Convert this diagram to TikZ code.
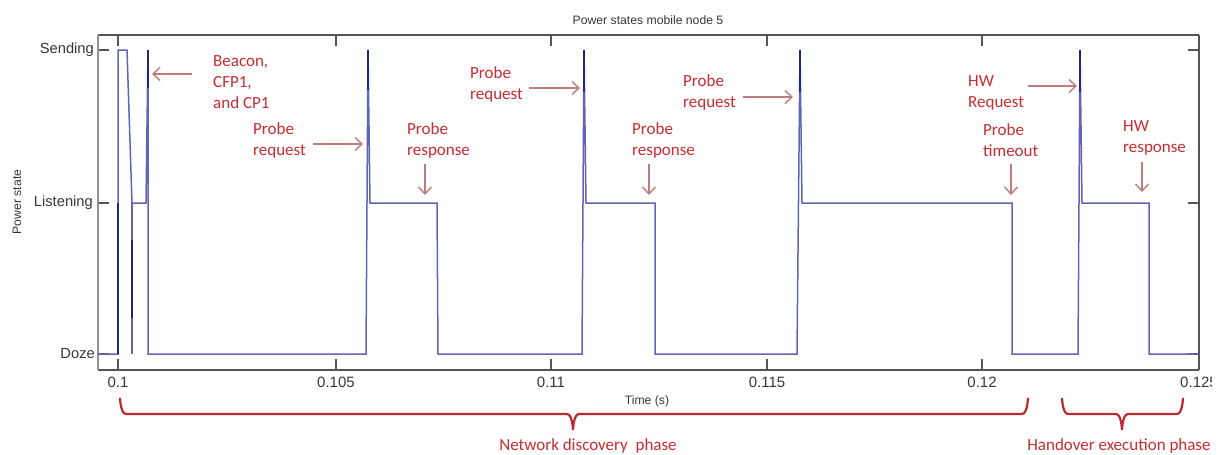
\documentclass[tikz,border=0pt]{standalone}
\usepackage{fontspec}
\setmainfont{Carlito}
\newfontfamily\axfont{Liberation Sans}
\usetikzlibrary{arrows.meta}
\definecolor{trace}{RGB}{100,100,182}
\definecolor{tracedark}{RGB}{35,35,140}
\definecolor{annot}{RGB}{200,45,50}
\definecolor{annarrow}{RGB}{190,125,125}
\definecolor{bracecol}{RGB}{185,45,50}
\definecolor{axdark}{RGB}{85,85,85}
\definecolor{axlight}{RGB}{145,145,145}
\definecolor{axtext}{RGB}{55,55,55}
\begin{document}
\begin{tikzpicture}[x=1pt,y=-1pt,
  annotext/.style={text=annot, font=\fontsize{17}{21}\selectfont, align=left, anchor=west, inner sep=0pt},
  annoarrow/.style={draw=annarrow, line width=1.4pt, -{Straight Barb[length=7pt,width=13pt]}},
  ticklbl/.style={text=axtext, font=\axfont\fontsize{15}{18}\selectfont, inner sep=0pt},
  statelbl/.style={text=axtext, font=\axfont\fontsize{14.7}{18}\selectfont, inner sep=0pt, anchor=east},
  smalllbl/.style={text=axtext, font=\axfont\fontsize{12.2}{15}\selectfont, inner sep=0pt},
  tracepath/.style={draw=trace, line width=1.5pt, line join=miter},
  darkpath/.style={draw=tracedark, line width=1.5pt},
  bracepath/.style={draw=bracecol, line width=2.2pt, line cap=round},
  phaselbl/.style={text=annot, font=\fontsize{17}{21}\selectfont, inner sep=0pt},
  tickmark/.style={draw=axdark, line width=1.2pt}
]
\useasboundingbox[fill=white] (0,0) rectangle (1219,455);

% title and axis labels
\node[smalllbl] (title) at (648,20) {Power states mobile node 5};
\node[smalllbl] (xlabel) at (647,401) {Time (s)};
\node[smalllbl, rotate=90] (ylabel) at (17,202) {Power state};

% y tick labels
\node[statelbl] (ysend) at (94,50) {Sending};
\node[statelbl] (ylist) at (93,203) {Listening};
\node[statelbl] (ydoze) at (95,354) {Doze};

% x tick labels
\node[ticklbl] (x1) at (118,382) {0.1};
\node[ticklbl] (x2) at (336,382) {0.105};
\node[ticklbl] (x3) at (551,382) {0.11};
\node[ticklbl] (x4) at (767,382) {0.115};
\node[ticklbl] (x5) at (982,382) {0.12};
\begin{scope}
  \clip (1150,370) rectangle (1211,396);
  \node[ticklbl] (x6) at (1199,382) {0.125};
\end{scope}

% ticks
\foreach \xx in {118,336,551,767,982} {
  \draw[tickmark] (\xx,35) -- (\xx,46);
  \draw[tickmark] (\xx,370) -- (\xx,359);
}
\foreach \yy in {50,203,354} {
  \draw[tickmark] (98,\yy) -- (109,\yy);
  \draw[tickmark] (1199,\yy) -- (1188,\yy);
}

% axes box
\draw[draw=axdark, line width=1.4pt] (98,35) -- (1199,35);
\draw[draw=axdark, line width=1.4pt] (98,370) -- (1199,370);
\draw[draw=axlight, line width=1.2pt] (98,35) -- (98,370);
\draw[draw=axdark, line width=1.2pt] (1199,35) -- (1199,370);

% trace
\draw[tracepath] (98,354) -- (118,354) -- (118,50) -- (127,50) -- (132,203) -- (146,203) -- (148,50) -- (148,354)
  -- (366,354) -- (368,50) -- (370,203) -- (437,203) -- (438,354)
  -- (582,354) -- (584,50) -- (586,203) -- (655,203) -- (655,354)
  -- (797,354) -- (800,50) -- (802,203) -- (1012,203) -- (1012,354)
  -- (1078,354) -- (1080,50) -- (1082,203) -- (1149,203) -- (1149,354) -- (1199,354);
\draw[tracepath] (132,203) -- (132,354);
% darker overlapping segments
\draw[darkpath] (118,203) -- (118,354);
\draw[darkpath] (132,240) -- (132,318);
\draw[darkpath] (148,50) -- (148,88);
\draw[darkpath] (368,50) -- (368,90);
\draw[darkpath] (584,50) -- (584,92);
\draw[darkpath] (800,50) -- (800,92);
\draw[darkpath] (1080,50) -- (1080,92);

% annotations
\node[annotext] (beacon) at (213,82) {Beacon,\\CFP1,\\and CP1};
\node[annotext] (preq1) at (253,140.5) {Probe\\request};
\node[annotext] (presp1) at (407,140.5) {Probe\\response};
\node[annotext] (preq2) at (470,84.5) {Probe\\request};
\node[annotext] (presp2) at (632,140.5) {Probe\\response};
\node[annotext] (preq3) at (683,92.5) {Probe\\request};
\node[annotext] (hwreq) at (968,92.5) {HW\\Request};
\node[annotext] (ptime) at (983,140.5) {Probe\\timeout};
\node[annotext] (hwresp) at (1123,137.5) {HW\\response};

\coordinate (a1s) at (192,74);  \coordinate (a1e) at (152,74);
\coordinate (a2s) at (313,144); \coordinate (a2e) at (363,144);
\coordinate (a3s) at (425,164); \coordinate (a3e) at (425,195);
\coordinate (a4s) at (529,88);  \coordinate (a4e) at (580,88);
\coordinate (a5s) at (649,164); \coordinate (a5e) at (649,195);
\coordinate (a6s) at (743,97);  \coordinate (a6e) at (793,97);
\coordinate (a7s) at (1028,86); \coordinate (a7e) at (1077,86);
\coordinate (a8s) at (1011,164); \coordinate (a8e) at (1011,195);
\coordinate (a9s) at (1142,162); \coordinate (a9e) at (1142,192);
\draw[annoarrow] (a1s) -- (a1e);
\draw[annoarrow] (a2s) -- (a2e);
\draw[annoarrow] (a3s) -- (a3e);
\draw[annoarrow] (a4s) -- (a4e);
\draw[annoarrow] (a5s) -- (a5e);
\draw[annoarrow] (a6s) -- (a6e);
\draw[annoarrow] (a7s) -- (a7e);
\draw[annoarrow] (a8s) -- (a8e);
\draw[annoarrow] (a9s) -- (a9e);

% braces
\draw[bracepath] (120,399) to[out=90,in=180] (126,414) -- (567,414) to[out=0,in=-90] (573,429)
  to[out=-90,in=180] (579,414) -- (1022,414) to[out=0,in=90] (1028,399);
\draw[bracepath] (1062,399) to[out=90,in=180] (1068,414) -- (1116,414) to[out=0,in=-90] (1122,429)
  to[out=-90,in=180] (1128,414) -- (1177,414) to[out=0,in=90] (1183,399);
\node[phaselbl] (netphase) at (588,446) {Network discovery\ \ phase};
\node[phaselbl] (hophase) at (1119,446) {Handover execution phase};
\end{tikzpicture}
\end{document}
